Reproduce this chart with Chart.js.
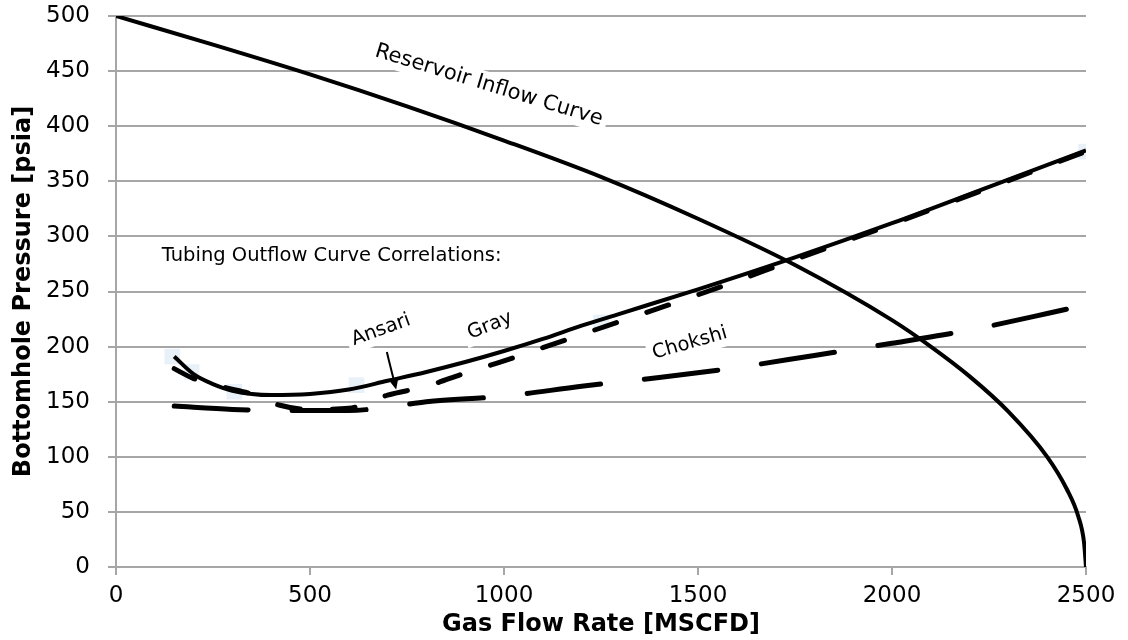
<!DOCTYPE html>
<html>
<head>
<meta charset="utf-8">
<script src="https://cdn.jsdelivr.net/npm/chart.js@4.4.1/dist/chart.umd.min.js"></script>
<style>
  html, body { margin: 0; padding: 0; background: #fff; }
  #wrap { width: 1128px; height: 640px; }
</style>
</head>
<body>
<div id="wrap"><canvas id="ipr"></canvas></div>
<script>
// Reservoir inflow curve
const reservoirRate = [0, 250, 500, 750, 1000, 1250, 1500, 1750, 2000, 2100, 2200, 2300, 2400, 2450, 2480, 2495, 2500];
const reservoirPressure = [500, 474, 447, 418, 387, 354, 316, 274, 224, 200, 173, 141, 100, 71, 46, 22, 0];

// Tubing outflow correlations
const grayRate = [150, 200, 250, 300, 400, 500, 600, 700, 800, 900, 1000, 1100, 1200, 1300, 1500, 1750, 2000, 2250, 2500];
const grayPressure = [191, 175, 166, 160, 156, 157, 161, 169, 177, 186, 196, 207, 219, 230, 252, 281, 312, 345, 378];

const ansariRate = [150, 200, 280, 350, 420, 500, 600, 700, 800, 900, 1000, 1100, 1200, 1300, 1500, 1750, 2000, 2250, 2500];
const ansariPressure = [180, 171, 163, 157, 147, 143, 144, 156, 164, 176, 187, 199, 211, 223, 247, 279, 311, 344, 377];

const chokshiRate = [150, 300, 450, 600, 700, 800, 1000, 1200, 1400, 1600, 1800, 2000, 2200, 2400, 2500];
const chokshiPressure = [146, 143, 142, 142, 145, 150, 155, 164, 172, 181, 192, 203, 215, 230, 238];

// faint data markers left in the original
const markerRate = [145, 195, 305, 620, 1250, 2500];
const markerPressure = [191, 177, 159, 165, 222, 377];

const xTitle = 'Gas Flow Rate [MSCFD]';
const yTitle = 'Bottomhole Pressure [psia]';

// text notes on the plot, anchored in data units
const notes = [
    { text: 'Reservoir Inflow Curve', q: 961, p: 437, angle: 17, size: 21 },
    { text: 'Tubing Outflow Curve Correlations:', q: 118, p: 282, angle: 0, size: 19.5, left: true },
    { text: 'Ansari', q: 683, p: 215, angle: -20, size: 19.5 },
    { text: 'Gray', q: 964, p: 219, angle: -22, size: 19.5 },
    { text: 'Chokshi', q: 1479, p: 203, angle: -16, size: 19.5 }
];
const ansariArrow = { from: [698, 195], to: [722, 161] };

const FONT = '"DejaVu Sans", Verdana, sans-serif';
const GRID = '#a6a6a6';

function toPoints(xs, ys) {
    return xs.map((q, i) => ({ x: q, y: ys[i] }));
}

// draws the white-backed labels and the arrow
const notesPlugin = {
    id: 'notes',
    beforeDatasetsDraw(chart) {
        const { ctx, scales: { x, y } } = chart;
        ctx.save();
        ctx.textBaseline = 'middle';
        ctx.textAlign = 'left';
        notes.forEach(n => {
            ctx.font = n.size + 'px ' + FONT;
            const px = x.getPixelForValue(n.q);
            const py = y.getPixelForValue(n.p);
            const w = ctx.measureText(n.text).width;
            const x0 = n.left ? 0 : -w / 2;
            ctx.save();
            ctx.translate(px, py);
            ctx.rotate(n.angle * Math.PI / 180);
            ctx.fillStyle = '#fff';
            ctx.fillRect(x0 - 5, -13, w + 10, 26);
            ctx.fillStyle = '#000';
            ctx.fillText(n.text, x0, 0);
            ctx.restore();
        });
        ctx.restore();
    },
    afterDatasetsDraw(chart) {
        const { ctx, scales: { x, y } } = chart;
        const x1 = x.getPixelForValue(ansariArrow.from[0]), y1 = y.getPixelForValue(ansariArrow.from[1]);
        const x2 = x.getPixelForValue(ansariArrow.to[0]), y2 = y.getPixelForValue(ansariArrow.to[1]);
        const a = Math.atan2(y2 - y1, x2 - x1);
        ctx.save();
        ctx.strokeStyle = '#000';
        ctx.fillStyle = '#000';
        ctx.lineWidth = 2;
        ctx.beginPath();
        ctx.moveTo(x1, y1);
        ctx.lineTo(x2 - 8 * Math.cos(a), y2 - 8 * Math.sin(a));
        ctx.stroke();
        ctx.beginPath();
        ctx.moveTo(x2, y2);
        ctx.lineTo(x2 - 11 * Math.cos(a) + 5 * Math.sin(a), y2 - 11 * Math.sin(a) - 5 * Math.cos(a));
        ctx.lineTo(x2 - 11 * Math.cos(a) - 5 * Math.sin(a), y2 - 11 * Math.sin(a) + 5 * Math.cos(a));
        ctx.closePath();
        ctx.fill();
        ctx.restore();
    }
};

new Chart(document.getElementById('ipr'), {
    type: 'line',
    data: {
        datasets: [
            {
                label: 'Reservoir Inflow Curve',
                data: toPoints(reservoirRate, reservoirPressure),
                borderColor: '#000',
                borderWidth: 4,
                pointRadius: 0,
                cubicInterpolationMode: 'monotone',
                order: 1
            },
            {
                label: 'Gray',
                data: toPoints(grayRate, grayPressure),
                borderColor: '#000',
                borderWidth: 4,
                pointRadius: 0,
                cubicInterpolationMode: 'monotone',
                order: 2
            },
            {
                label: 'Ansari',
                data: toPoints(ansariRate, ansariPressure),
                borderColor: '#000',
                borderWidth: 5,
                borderDash: [23, 32],
                borderCapStyle: 'round',
                pointRadius: 0,
                cubicInterpolationMode: 'monotone',
                order: 3
            },
            {
                label: 'Chokshi',
                data: toPoints(chokshiRate, chokshiPressure),
                borderColor: '#000',
                borderWidth: 5,
                borderDash: [74, 44],
                borderCapStyle: 'round',
                pointRadius: 0,
                cubicInterpolationMode: 'monotone',
                order: 4
            },
            {
                label: 'markers',
                data: toPoints(markerRate, markerPressure),
                showLine: false,
                pointStyle: 'rect',
                pointRadius: 11,
                pointBackgroundColor: 'rgba(222,233,245,0.7)',
                pointBorderWidth: 0,
                order: 10
            }
        ]
    },
    options: {
        animation: false,
        responsive: true,
        maintainAspectRatio: false,
        layout: { padding: { left: 0, right: 42, top: 16, bottom: 0 } },
        plugins: {
            legend: { display: false },
            tooltip: { enabled: false }
        },
        scales: {
            x: {
                type: 'linear',
                min: 0,
                max: 2500,
                ticks: {
                    stepSize: 500,
                    color: '#000',
                    padding: 7,
                    font: { family: FONT, size: 23 },
                    callback: v => String(v)
                },
                grid: { drawOnChartArea: false, tickLength: 8, color: GRID, lineWidth: 2 },
                border: { color: GRID, width: 2 },
                title: {
                    display: true,
                    text: xTitle,
                    color: '#000',
                    padding: { top: 0, bottom: 1 },
                    font: { family: FONT, size: 24, weight: 'bold' }
                },
                afterFit(scale) {
                    scale.height = 73;
                    scale.paddingLeft = 0;
                    scale.paddingRight = 0;
                }
            },
            y: {
                min: 0,
                max: 500,
                ticks: {
                    stepSize: 50,
                    color: '#000',
                    padding: 18,
                    font: { family: FONT, size: 23 },
                    callback: v => String(v)
                },
                grid: { tickLength: 8, color: GRID, lineWidth: 2 },
                border: { color: GRID, width: 2 },
                title: {
                    display: true,
                    text: yTitle,
                    color: '#000',
                    padding: { top: 9, bottom: 0 },
                    font: { family: FONT, size: 24, weight: 'bold' }
                },
                afterFit(scale) {
                    scale.width = 116;
                    scale.paddingTop = 0;
                    scale.paddingBottom = 0;
                }
            }
        }
    },
    plugins: [notesPlugin]
});
</script>
</body>
</html>
